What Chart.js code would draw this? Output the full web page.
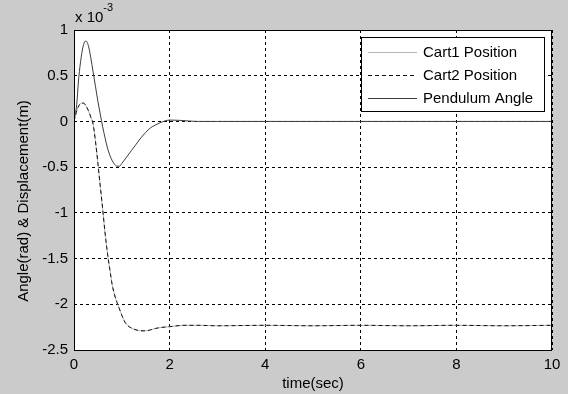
<!DOCTYPE html>
<html>
<head>
<meta charset="utf-8">
<script src="https://cdn.jsdelivr.net/npm/chart.js@4/dist/chart.umd.min.js"></script>
<style>
	html,body{margin:0;padding:0;background:#cbcbcb}
	#wrap{width:568px;height:394px}
</style>
</head>
<body>
<div id="wrap"><canvas id="chart0" width="568" height="394"></canvas></div>
<script>
// values in units of 1e-3 (axis multiplier drawn as "x 10^-3")
var timePend = [0,0.02,0.05,0.1,0.15,0.2,0.25,0.3,0.35,0.4,0.45,0.5,0.55,0.6,0.65,0.7,0.75,0.8,0.85,0.9,0.95,1.0,1.1,1.2,1.3,1.4,1.5,1.6,1.7,1.8,1.9,2.0,2.2,2.4,2.6,3,4,6,8,10]
var pendulumAngle = [0,0.08,0.15,0.48,0.7,0.84,0.88,0.83,0.7,0.54,0.38,0.22,0.08,-0.06,-0.18,-0.29,-0.37,-0.43,-0.47,-0.49,-0.49,-0.46,-0.39,-0.32,-0.25,-0.18,-0.12,-0.07,-0.04,-0.015,0.005,0.015,0.012,0.005,0,0,0,0,0,0]

var timeCart = [0,0.03,0.06,0.1,0.15,0.2,0.25,0.3,0.35,0.4,0.45,0.5,0.55,0.6,0.65,0.7,0.75,0.8,0.85,0.9,0.95,1.0,1.05,1.1,1.2,1.3,1.4,1.5,1.6,1.7,1.8,2.0,2.3,2.6,3,4,5,6,7,8,9,10]
var cart1Pos = [0,0.06,0.12,0.17,0.2,0.2,0.17,0.12,0.05,-0.03,-0.22,-0.46,-0.71,-0.96,-1.22,-1.44,-1.62,-1.79,-1.9,-1.98,-2.05,-2.12,-2.18,-2.22,-2.26,-2.28,-2.29,-2.29,-2.28,-2.265,-2.255,-2.245,-2.23,-2.23,-2.235,-2.23,-2.235,-2.23,-2.235,-2.23,-2.235,-2.23]
var cart2Pos = [0,0.06,0.12,0.17,0.2,0.2,0.17,0.12,0.05,-0.03,-0.22,-0.46,-0.71,-0.96,-1.22,-1.44,-1.62,-1.79,-1.9,-1.98,-2.05,-2.12,-2.18,-2.22,-2.26,-2.28,-2.29,-2.29,-2.28,-2.265,-2.255,-2.245,-2.23,-2.23,-2.235,-2.23,-2.235,-2.23,-2.235,-2.23,-2.235,-2.23]

var xTicks = [0,2,4,6,8,10]
var yTicks = [-2.5,-2,-1.5,-1,-0.5,0,0.5,1]
var xTitle = 'time(sec)'
var yTitle = 'Angle(rad) & Displacement(m)'

var FONT = "'Liberation Sans', Arial, sans-serif"

function pts(t, v){
	return t.map(function(x, i){ return {x: x, y: v[i]} })
}

// figure background, white axes, box frame, multiplier, y title, legend
var matlabLook = {
	id: 'matlabLook',
	beforeDraw: function(chart){
		var c = chart.ctx, a = chart.chartArea
		c.save()
		c.fillStyle = '#cbcbcb'
		c.fillRect(0, 0, chart.width, chart.height)
		c.fillStyle = '#fff'
		c.fillRect(a.left, a.top, a.right - a.left, a.bottom - a.top)
		c.restore()
	},
	afterDatasetsDraw: function(chart){
		var c = chart.ctx, a = chart.chartArea
		c.save()
		c.strokeStyle = '#000'
		c.lineWidth = 1
		c.strokeRect(Math.round(a.left) + 0.5, Math.round(a.top) + 0.5, Math.round(a.right - a.left) - 1, Math.round(a.bottom - a.top))
		c.restore()
	},
	afterDraw: function(chart){
		var c = chart.ctx, a = chart.chartArea
		c.save()
		c.fillStyle = '#000'
		c.textBaseline = 'middle'
		c.textAlign = 'left'
		c.font = '15px ' + FONT
		c.fillText('x 10', a.left + 1, 18)
		var w = c.measureText('x 10').width
		c.font = '11px ' + FONT
		c.fillText('-3', a.left + 1 + w, 8)

		// y title
		c.font = '15px ' + FONT
		c.translate(24, 201)
		c.rotate(-Math.PI / 2)
		c.textAlign = 'center'
		c.fillText(yTitle, 0, 0)
		c.restore()

		// legend box
		var lx = a.right - 191, ly = a.top + 7, lw = 183, lh = 74
		c.save()
		c.fillStyle = '#fff'
		c.fillRect(lx, ly, lw, lh)
		c.strokeStyle = '#000'
		c.lineWidth = 1
		c.strokeRect(lx + 0.5, ly + 0.5, lw, lh)
		c.font = '15px ' + FONT
		c.textBaseline = 'middle'
		c.fillStyle = '#000'
		chart.data.datasets.forEach(function(ds, i){
			var y = Math.round(ly + 15 + i * 23) + 0.5
			c.strokeStyle = ds.borderColor
			c.lineWidth = ds.borderWidth
			c.setLineDash(ds.borderDash || [])
			c.beginPath()
			c.moveTo(lx + 7, y)
			c.lineTo(lx + 56, y)
			c.stroke()
			c.setLineDash([])
			c.fillText(ds.label, lx + 62, y)
		})
		c.restore()
	}
}

var chart0 = new Chart(document.getElementById('chart0'), {
	type: 'line',
	data: {
		datasets: [
			{label: 'Cart1 Position', data: pts(timeCart, cart1Pos), borderColor: '#b4b4b4', borderWidth: 1, order: 3},
			{label: 'Cart2 Position', data: pts(timeCart, cart2Pos), borderColor: '#111', borderWidth: 1, borderDash: [4, 3], order: 2},
			{label: 'Pendulum Angle', data: pts(timePend, pendulumAngle), borderColor: '#3c3c3c', borderWidth: 1, order: 1}
		]
	},
	options: {
		responsive: false,
		animation: false,
		events: [],
		layout: {padding: {top: 30, right: 16, left: 0, bottom: 0}},
		elements: {
			point: {radius: 0},
			line: {cubicInterpolationMode: 'monotone', fill: false}
		},
		plugins: {
			legend: {display: false},
			tooltip: {enabled: false}
		},
		scales: {
			x: {
				type: 'linear',
				min: 0, max: 10,
				afterFit: function(s){ s.height = 44 },
				afterBuildTicks: function(s){ s.ticks = xTicks.map(function(v){ return {value: v} }) },
				grid: {color: '#000', lineWidth: 1, drawTicks: false},
				border: {display: false, dash: [3, 3]},
				ticks: {color: '#000', padding: 6, font: {family: FONT, size: 15}, maxRotation: 0,
					callback: function(v){ return String(v) }},
				title: {display: true, text: xTitle, color: '#000', font: {family: FONT, size: 15}, padding: {top: 0, bottom: 1}}
			},
			y: {
				type: 'linear',
				min: -2.5, max: 1,
				afterFit: function(s){ s.width = 74 },
				afterBuildTicks: function(s){ s.ticks = yTicks.map(function(v){ return {value: v} }) },
				grid: {color: '#000', lineWidth: 1, drawTicks: false},
				border: {display: false, dash: [3, 3]},
				ticks: {color: '#000', padding: 6, font: {family: FONT, size: 15},
					callback: function(v){ return String(v) }}
			}
		}
	},
	plugins: [matlabLook]
})
</script>
</body>
</html>
